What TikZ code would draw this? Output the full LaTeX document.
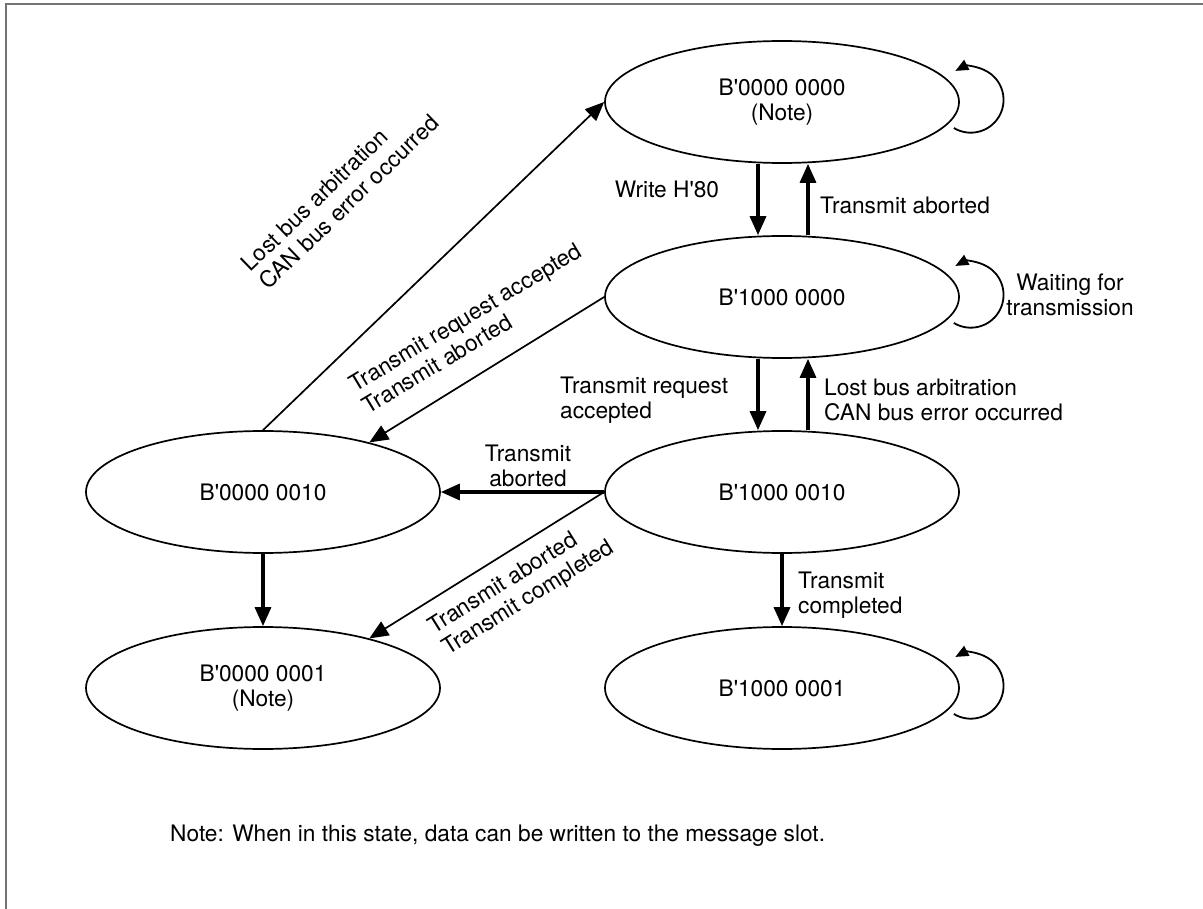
\documentclass[tikz,border=0pt]{standalone}
\usepackage{fontspec}
\setmainfont{TeX Gyre Heros}
\usetikzlibrary{arrows.meta, shapes.geometric, positioning}
\newcommand{\squote}{\textquotesingle}

\begin{document}
\begin{tikzpicture}[x=1pt, y=-1pt, >={Triangle[length=19pt, width=16pt]},
    font=\fontsize{22.7}{25.5}\selectfont, node distance=195pt,
    state/.style={ellipse, draw, line width=1.7pt, minimum width=354pt,
      minimum height=122pt, inner sep=0pt, align=center},
    thick arrow/.style={->, line width=3.3pt},
    thin arrow/.style={->, line width=1.7pt},
    self loop/.style={-{Triangle[length=13pt, width=11pt]}, line width=1.8pt},
    lbl/.style={inner sep=0pt, align=left},
    frame/.style={draw=black!55, line width=1.7pt}]
    \useasboundingbox (0,0) rectangle (1203,909);
    \draw[frame] (6,909) -- (6,4) -- (1203,4);

    \node[state] (e1) at (782,102) {B\squote0000 0000\\(Note)};
    \node[state] (e2) [below of=e1] {B\squote1000 0000};
    \node[state] (e3) [below of=e2] {B\squote1000 0010};
    \node[state] (e4) [below of=e3, node distance=196pt] {B\squote1000 0001};
    \node[state] (e5) [left of=e3, node distance=519pt] {B\squote0000 0010};
    \node[state] (e6) [below of=e5, node distance=196pt] {B\squote0000 0001\\(Note)};

    \draw[thick arrow] ([xshift=-24pt]e1.south) -- ([xshift=-24pt]e2.north);
    \draw[thick arrow] ([xshift=26pt]e2.north) -- ([xshift=26pt]e1.south);
    \draw[thick arrow] ([xshift=-24pt]e2.south) -- ([xshift=-24pt]e3.north);
    \draw[thick arrow] ([xshift=26pt]e3.north) -- ([xshift=26pt]e2.south);
    \draw[thick arrow] (e3) -- (e4);
    \draw[thick arrow] (e5) -- (e6);
    \draw[thick arrow] (e3.west) -- (e5.east);
    \draw[thin arrow] (e3.west) -- (e6.25);
    \draw[thin arrow] (e2.west) -- (e5.25);
    \draw[thin arrow] (e5.north) -- (e1.west);

    % self loops on the right
    \draw[self loop] ([shift={(-6pt,-26pt)}]e1.east) arc[start angle=-121, end angle=118, radius=32.8pt];
    \draw[self loop] ([shift={(-6pt,-26pt)}]e2.east) arc[start angle=-121, end angle=118, radius=32.8pt];
    \draw[self loop] ([shift={(-6pt,-26pt)}]e4.east) arc[start angle=-121, end angle=118, radius=32.8pt];

    \node[lbl] (wh) at (667,189) {Write H\squote80};
    \node[lbl, anchor=west] (ta1) at (820,205) {Transmit aborted};
    \node[lbl, align=center] (wft) at (1070,295) {Waiting for\\transmission};
    \node[lbl, anchor=west] (tra) at (560,400) {Transmit request\\accepted};
    \node[lbl, anchor=west] (lbe1) at (824,400) {Lost bus arbitration\\CAN bus error occurred};
    \node[lbl, align=center] (ta2) at (528,466) {Transmit\\aborted};
    \node[lbl, anchor=west] (tc) at (798,595) {Transmit\\completed};
    \node[lbl, rotate=32] (tatc) at (522,588) {Transmit aborted\\Transmit completed};
    \node[lbl, rotate=31] (trta) at (472,328) {Transmit request accepted\\Transmit aborted};
    \node[lbl, rotate=44] (lbe2) at (340,193) {Lost bus arbitration\\CAN bus error occurred};
    \node[lbl, anchor=west] (note) at (170,836) {Note: When in this state, data can be written to the message slot.};
  \end{tikzpicture}
\end{document}
